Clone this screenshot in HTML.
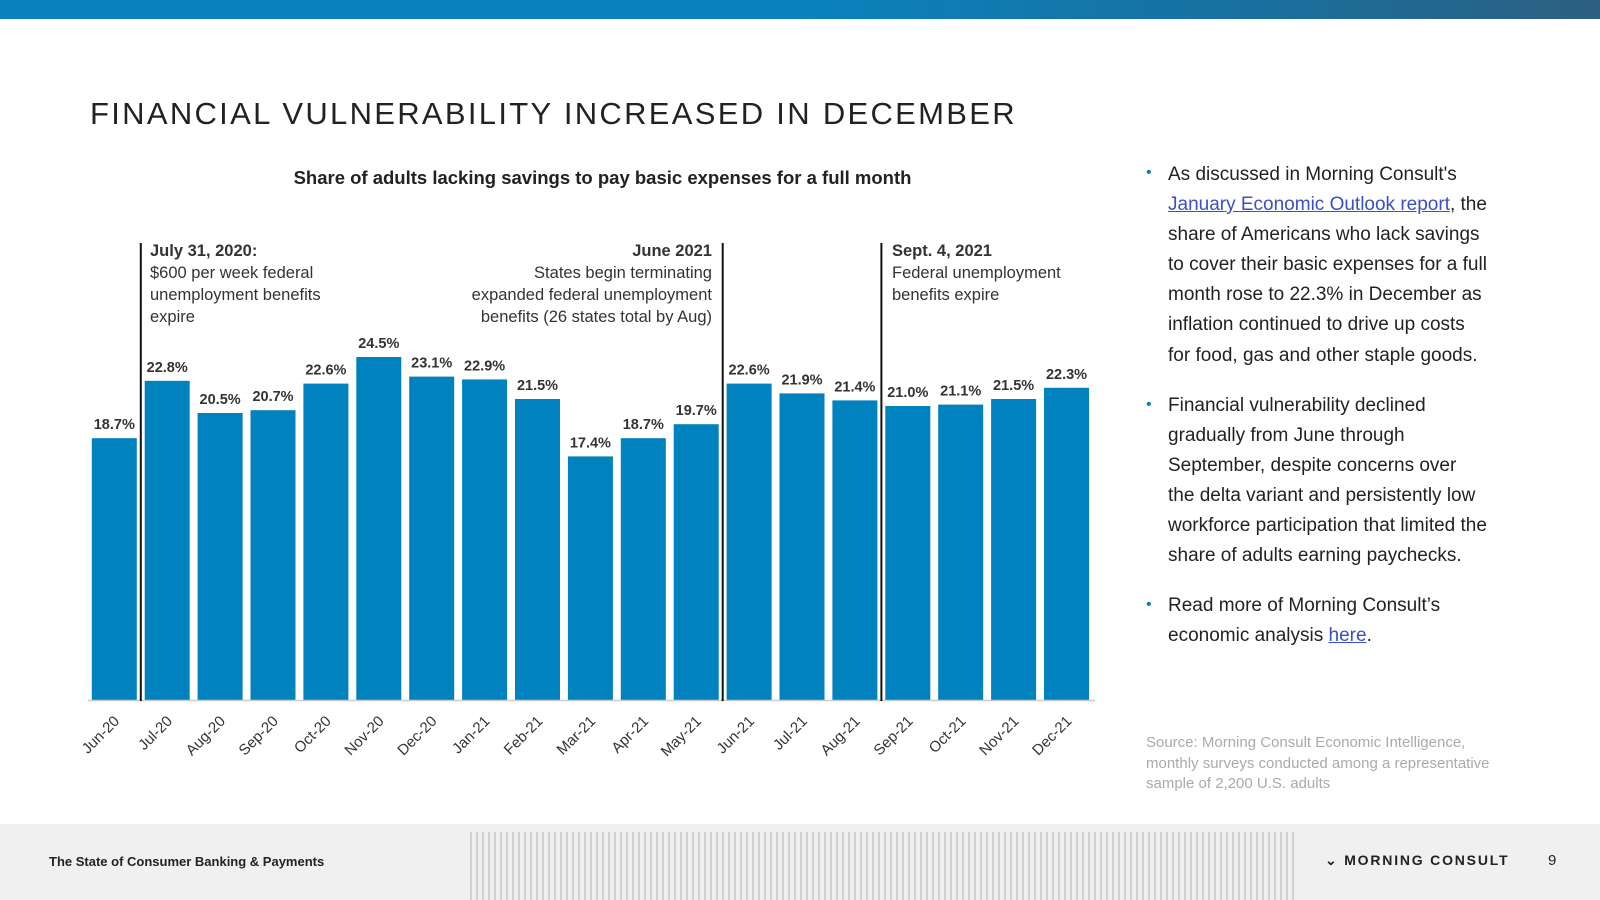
<!DOCTYPE html>
<html><head><meta charset="utf-8"><style>
body{margin:0;width:1600px;height:900px;position:relative;overflow:hidden;background:#fff;font-family:"Liberation Sans",sans-serif;color:#222}
.abs{position:absolute}
#top{left:0;top:0;width:1600px;height:19px;background:linear-gradient(90deg,#0a82bd 0%,#0a82bd 50%,#1a6f9c 80%,#2d5f80 100%)}
#title{left:90px;top:96px;font-size:31px;letter-spacing:2.3px;color:#222;white-space:nowrap}
#sub{left:200px;width:805px;top:167px;text-align:center;font-size:18.5px;font-weight:bold}
.ann{font-size:16.5px;line-height:22px;color:#333;white-space:nowrap}
.rt{left:1168px;width:400px;font-size:19px;line-height:30.1px;color:#222;white-space:nowrap}
.bul{left:1146px;color:#0a82bd;font-size:16px}
a{color:#3a4fc8;text-decoration:underline}
#src{left:1146px;top:733px;width:420px;font-size:15px;line-height:20.5px;color:#aaa;white-space:nowrap}
#foot{left:0;top:824px;width:1600px;height:76px;background:#f0f0f0}
</style></head><body>
<div id="top" class="abs"></div>
<div id="title" class="abs">FINANCIAL VULNERABILITY INCREASED IN DECEMBER</div>
<div id="sub" class="abs">Share of adults lacking savings to pay basic expenses for a full month</div>
<svg id="chart" class="abs" style="left:0;top:0" width="1100" height="800"></svg>
<div class="abs ann" style="left:150px;top:240px"><b>July 31, 2020:</b><br>$600 per week federal<br>unemployment benefits<br>expire</div>
<div class="abs ann" style="left:392px;width:320px;top:240px;text-align:right"><b>June 2021</b><br>States begin terminating<br>expanded federal unemployment<br>benefits (26 states total by Aug)</div>
<div class="abs ann" style="left:892px;top:240px"><b>Sept. 4, 2021</b><br>Federal unemployment<br>benefits expire</div>
<div class="abs bul" style="top:164px">•</div>
<div class="abs rt" style="top:160px">As discussed in Morning Consult's<br><a>January Economic Outlook report</a>, the<br>share of Americans who lack savings<br>to cover their basic expenses for a full<br>month rose to 22.3% in December as<br>inflation continued to drive up costs<br>for food, gas and other staple goods.</div>
<div class="abs bul" style="top:396px">•</div>
<div class="abs rt" style="top:391px">Financial vulnerability declined<br>gradually from June through<br>September, despite concerns over<br>the delta variant and persistently low<br>workforce participation that limited the<br>share of adults earning paychecks.</div>
<div class="abs bul" style="top:596px">•</div>
<div class="abs rt" style="top:591px">Read more of Morning Consult’s<br>economic analysis <a>here</a>.</div>
<div id="src" class="abs">Source: Morning Consult Economic Intelligence,<br>monthly surveys conducted among a representative<br>sample of 2,200 U.S. adults</div>
<div id="foot" class="abs">
<div class="abs" style="left:470px;top:8px;width:825px;height:68px;background:repeating-linear-gradient(90deg,#bbb 0 2px,#eee 2px 6px);opacity:.6"></div>
<div class="abs" style="left:49px;top:30px;font-size:13px;font-weight:bold;color:#222">The State of Consumer Banking &amp; Payments</div>
<div class="abs" style="left:1325px;top:28px;font-size:14px;font-weight:bold;letter-spacing:1.8px;color:#222">⌄ MORNING CONSULT</div>
<div class="abs" style="left:1548px;top:28px;font-size:15px;color:#222">9</div>
</div>
<script>
const categories=["Jun-20","Jul-20","Aug-20","Sep-20","Oct-20","Nov-20","Dec-20","Jan-21","Feb-21","Mar-21","Apr-21","May-21","Jun-21","Jul-21","Aug-21","Sep-21","Oct-21","Nov-21","Dec-21"];
const values=[18.7,22.8,20.5,20.7,22.6,24.5,23.1,22.9,21.5,17.4,18.7,19.7,22.6,21.9,21.4,21.0,21.1,21.5,22.3];
const markerIndexes=[1,12,15];
const ns="http://www.w3.org/2000/svg";
const svg=document.getElementById('chart');
const x0=91.8,pitch=52.9,bw=45,base=700,k=14;
const xs=i=>x0+i*pitch;
const ys=v=>base-v*k;
function mk(t,a){const e=document.createElementNS(ns,t);for(const n in a)e.setAttribute(n,a[n]);svg.appendChild(e);return e;}
values.forEach((v,i)=>{
 const r=mk('rect',{x:xs(i),y:ys(v),width:bw,height:base-ys(v),fill:'#0082be'});
 
 
 const t=mk('text',{x:xs(i)+bw/2,y:ys(v)-9,'text-anchor':'middle','font-size':14.5,'font-weight':'bold',fill:'#333','font-family':'Liberation Sans'});
 t.textContent=v.toFixed(1)+'%';
 
 
 const cx=xs(i)+bw/2+6,cy=722;
 const l=mk('text',{x:cx,y:cy,'text-anchor':'end','font-size':15,fill:'#333','font-family':'Liberation Sans',transform:`rotate(-45 ${cx} ${cy})`});
 l.textContent=categories[i];
 
 
});
const ax=mk('line',{x1:88,x2:1095,y1:base+0.5,y2:base+0.5,stroke:'#ccc','stroke-width':1.5});


markerIndexes.forEach(i=>{
 const x=xs(i)-3.9;
 const m=mk('line',{x1:x,x2:x,y1:243,y2:base+1,stroke:'#111','stroke-width':2});
 
 
});
</script>
</body></html>
